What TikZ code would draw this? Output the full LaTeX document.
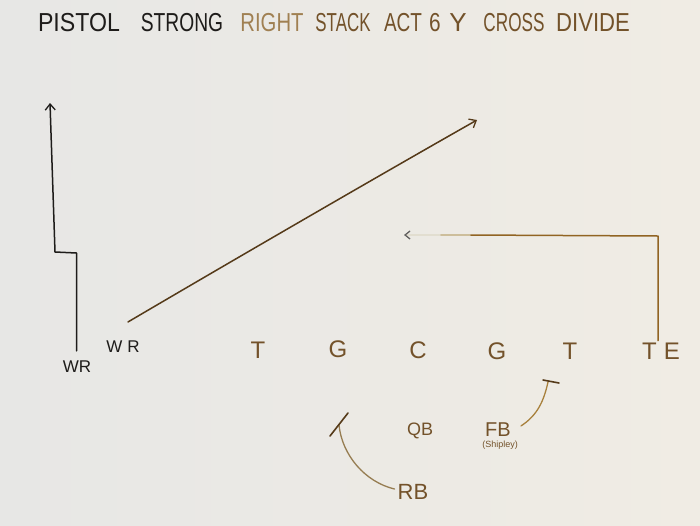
\documentclass[tikz,border=0pt]{standalone}
\usepackage{fontspec}
\setmainfont{Liberation Sans}
\usetikzlibrary{arrows.meta,calc}
\definecolor{bgL}{RGB}{231,231,229}
\definecolor{bgR}{RGB}{240,236,228}
\definecolor{inkblack}{RGB}{30,28,26}
\definecolor{inkdark}{RGB}{85,58,25}
\definecolor{inkbrown}{RGB}{115,82,42}
\definecolor{inklight}{RGB}{160,128,82}
\definecolor{inkgold}{RGB}{145,100,35}
\definecolor{inkfade}{RGB}{205,190,155}
\definecolor{inkfader}{RGB}{226,222,208}
\definecolor{inkrb}{RGB}{150,125,82}
\definecolor{inkfb}{RGB}{168,128,60}
\newcommand{\sqz}[2]{\scalebox{#1}[1]{#2}}
\tikzset{
  ttl/.style={inner sep=0pt, font=\fontsize{26}{26}\selectfont, text=inkbrown},
  player/.style={inner sep=0pt, font=\fontsize{24}{24}\selectfont, text=inkbrown},
  lbl/.style={inner sep=0pt, text=inkblack},
  route/.style={line width=1.5pt, line cap=round, line join=round},
  barb/.style={-{Straight Barb[length=6pt,width=10pt,line width=1.3pt]}}
}
\begin{document}
\begin{tikzpicture}[x=1pt,y=-1pt]
\shade[left color=bgL,right color=bgR] (0,0) rectangle (700,525);
\useasboundingbox (0,0) rectangle (700,525);

% title
\node[ttl,text=inkblack] (t1) at (79,23) {\sqz{0.89}{PISTOL}};
\node[ttl,text=inkblack] (t2) at (182,23) {\sqz{0.74}{STRONG}};
\node[ttl,text=inklight] (t3) at (272,23) {\sqz{0.78}{RIGHT}};
\node[ttl] (t4) at (343,23) {\sqz{0.65}{STACK}};
\node[ttl] (t5) at (403,23) {\sqz{0.73}{ACT}};
\node[ttl] (t6) at (435,23) {\sqz{0.8}{6}};
\node[ttl] (t7) at (458,23) {Y};
\node[ttl] (t8) at (514,23) {\sqz{0.66}{CROSS}};
\node[ttl] (t9) at (593,23) {\sqz{0.85}{DIVIDE}};

% line
\node[lbl,font=\fontsize{17}{17}\selectfont] (WR1) at (77,367) {WR};
\node[lbl,font=\fontsize{17}{17}\selectfont] (WR2) at (123,347) {W\hspace{5pt}R};
\node[player] (T1) at (258,350) {T};
\node[player] (G1) at (338,349) {G};
\node[player] (C) at (418,350) {C};
\node[player] (G2) at (497,351) {G};
\node[player] (T2) at (570,351) {T};
\node[player] (TE) at (661,351) {T\hspace{7pt}E};

% backfield
\node[player,font=\fontsize{18}{18}\selectfont] (QB) at (420,431) {QB};
\node[player,font=\fontsize{20}{20}\selectfont] (FB) at (498,430) {FB};
\node[player,font=\fontsize{9}{9}\selectfont] (SH) at (500,445) {(Shipley)};
\node[player,font=\fontsize{22}{22}\selectfont] (RB) at (413,492) {RB};

% coordinates
\coordinate (w1) at (76.5,253);
\coordinate (w2) at (55,252);
\coordinate (w3) at (50,103);
\coordinate (d1) at (477,120);
\coordinate (te1) at (658,236);
\coordinate (te2) at (470,235);
\coordinate (te3) at (440,235);
\coordinate (te4) at (404,235);
\coordinate (rbend) at (339,425);
\coordinate (rbb1) at (330,436);
\coordinate (rbb2) at (348,413);
\coordinate (fbend) at (548,382);
\coordinate (fbb1) at (543,380);
\coordinate (fbb2) at (559,383);

% routes
\draw[route,inkblack,barb] ($(WR1.north -| w1)+(0,-10)$) -- (w1) -- (w2) -- (w3);
\draw[route,inkdark,barb] ($(WR2.north)+(5,-19)$) .. controls (230,262) and (380,175) .. (d1);
\draw[route,inkgold] ($(TE.north -| te1)+(0,-2)$) -- (te1) -- (te2);
\draw[route,inkfade] (te2) -- (te3);
\draw[route,inkfader,-{Straight Barb[length=5pt,width=8pt,line width=1.3pt,color=inkblack!70]}] (te3) -- (te4);

\draw[route,inkrb,line width=1.3pt] ($(RB.west)+(-3,-3)$) .. controls (365,482) and (342,455) .. (rbend);
\draw[route,inkdark,line width=1.6pt] (rbb1) -- (rbb2);
\draw[route,inkfb,line width=1.3pt] ($(FB.north east)+(10,3)$) .. controls (538,415) and (544,400) .. (fbend);
\draw[route,inkdark,line width=1.6pt] (fbb1) -- (fbb2);
\end{tikzpicture}
\end{document}
